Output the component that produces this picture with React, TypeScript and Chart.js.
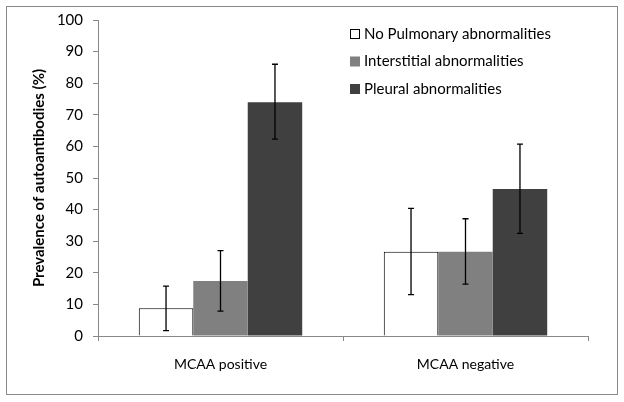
import React, { useEffect, useRef } from "react";
import { Chart, registerables } from "chart.js";

Chart.register(...registerables);

const categories = ["MCAA positive", "MCAA negative"];
const seriesNames = ["No Pulmonary abnormalities", "Interstitial abnormalities", "Pleural abnormalities"];
const noPulmonary = [8.8, 26.7];
const interstitial = [17.4, 26.7];
const pleural = [74.0, 46.5];
const noPulmonaryLow = [1.7, 13.1];
const noPulmonaryHigh = [15.8, 40.4];
const interstitialLow = [7.9, 16.4];
const interstitialHigh = [27.0, 37.1];
const pleuralLow = [62.3, 32.5];
const pleuralHigh = [86.0, 60.7];
const yTicks = [0, 10, 20, 30, 40, 50, 60, 70, 80, 90, 100];

const FONT = "Lato, 'Open Sans', sans-serif";

const errorLows = [noPulmonaryLow, interstitialLow, pleuralLow];
const errorHighs = [noPulmonaryHigh, interstitialHigh, pleuralHigh];

const errorBarPlugin = {
  id: "errorBars",
  afterDatasetsDraw(chart: any) {
    const ctx = chart.ctx;
    const y = chart.scales.y;
    ctx.save();
    ctx.strokeStyle = "#000";
    ctx.lineWidth = 1.3;
    chart.data.datasets.forEach((_ds: any, di: number) => {
      const meta = chart.getDatasetMeta(di);
      meta.data.forEach((bar: any, i: number) => {
        const x = bar.x;
        const yl = y.getPixelForValue(errorLows[di][i]);
        const yh = y.getPixelForValue(errorHighs[di][i]);
        ctx.beginPath();
        ctx.moveTo(x, yl);
        ctx.lineTo(x, yh);
        ctx.moveTo(x - 3, yl);
        ctx.lineTo(x + 3, yl);
        ctx.moveTo(x - 3, yh);
        ctx.lineTo(x + 3, yh);
        ctx.stroke();
      });
    });
    ctx.restore();
  },
};

const legendPlugin = {
  id: "customLegend",
  afterDraw(chart: any) {
    const ctx = chart.ctx;
    ctx.save();
    ctx.font = `15px ${FONT}`;
    ctx.textBaseline = "middle";
    ctx.textAlign = "left";
    chart.data.datasets.forEach((ds: any, i: number) => {
      const cy = 34 + i * 27.5;
      const bx = 350;
      ctx.fillStyle = ds.backgroundColor;
      ctx.fillRect(bx, cy - 5, 10, 10);
      if (ds.borderWidth) {
        ctx.strokeStyle = "#000";
        ctx.lineWidth = 1;
        ctx.strokeRect(bx + 0.5, cy - 4.5, 9, 9);
      }
      ctx.fillStyle = "#000";
      ctx.fillText(ds.label, 364, cy);
    });
    ctx.restore();
  },
};

const borderPlugin = {
  id: "outerBorder",
  afterDraw(chart: any) {
    const ctx = chart.ctx;
    ctx.save();
    ctx.strokeStyle = "#8a8a8a";
    ctx.lineWidth = 1;
    ctx.strokeRect(6.5, 6.5, 611, 388);
    ctx.restore();
  },
};

export default function App() {
  const ref = useRef<HTMLCanvasElement>(null);
  useEffect(() => {
    if (!ref.current) return;
    const chart = new Chart(ref.current, {
      type: "bar",
      data: {
        labels: categories,
        datasets: [
          {
            label: seriesNames[0],
            data: noPulmonary,
            backgroundColor: "#ffffff",
            borderColor: "#000000",
            borderWidth: 1,
          },
          {
            label: seriesNames[1],
            data: interstitial,
            backgroundColor: "#808080",
            borderWidth: 0,
          },
          {
            label: seriesNames[2],
            data: pleural,
            backgroundColor: "#404040",
            borderWidth: 0,
          },
        ],
      },
      options: {
        animation: false,
        responsive: false,
        maintainAspectRatio: false,
        layout: { padding: { left: 0, top: 20, right: 36, bottom: 16 } },
        plugins: {
          legend: { display: false },
          tooltip: { enabled: false },
        },
        datasets: {
          bar: { categoryPercentage: 0.667, barPercentage: 1.0 },
        },
        scales: {
          x: {
            grid: {
              display: true,
              drawOnChartArea: false,
              drawTicks: true,
              tickLength: 5,
              offset: true,
              color: "#888",
            },
            border: { display: true, color: "#888", width: 1 },
            ticks: {
              color: "#000",
              font: { family: FONT, size: 14 },
              padding: 15,
            },
            afterFit: (s: any) => {
              s.height = 50;
            },
          },
          y: {
            min: 0,
            max: 100,
            afterBuildTicks: (s: any) => {
              s.ticks = yTicks.map((v) => ({ value: v }));
            },
            grid: {
              display: true,
              drawOnChartArea: false,
              drawTicks: true,
              tickLength: 5,
              color: "#888",
            },
            border: { display: true, color: "#888", width: 1 },
            ticks: {
              color: "#000",
              font: { family: FONT, size: 15 },
              padding: 10,
            },
            title: {
              display: true,
              text: "Prevalence of autoantibodies (%)",
              color: "#000",
              font: { family: FONT, size: 15, weight: "bold" },
              padding: { top: 30, bottom: 0 },
            },
            afterFit: (s: any) => {
              s.width = 98;
            },
          },
        },
      },
      plugins: [errorBarPlugin, legendPlugin, borderPlugin],
    });
    return () => chart.destroy();
  }, []);
  return (
    <div style={{ position: "fixed", left: 0, top: 0, width: 624, height: 402, background: "#fff" }}>
      <canvas ref={ref} width={624} height={402} style={{ width: 624, height: 402 }} />
    </div>
  );
}
